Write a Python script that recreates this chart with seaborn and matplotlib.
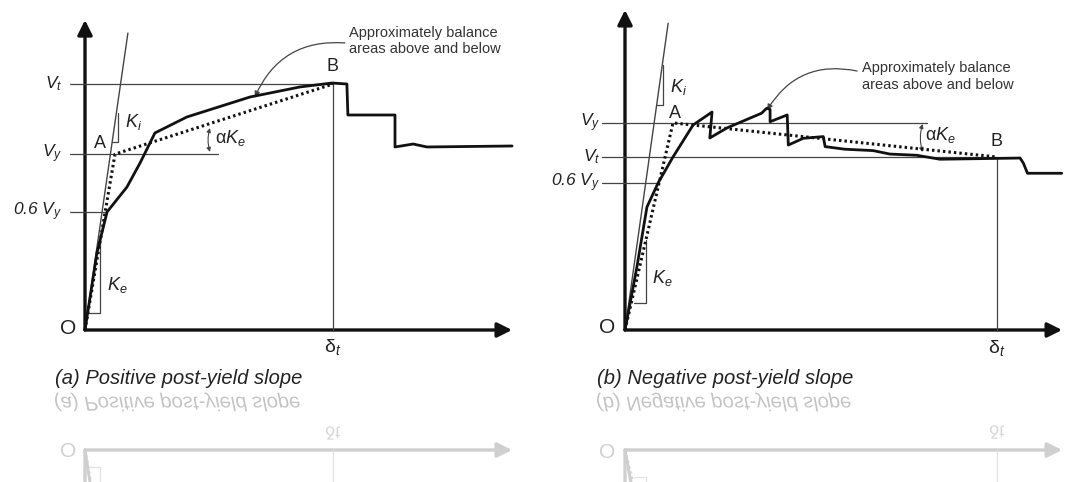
import matplotlib
matplotlib.use('Agg')
import matplotlib.pyplot as plt
import seaborn as sns
from matplotlib.patches import FancyArrowPatch, PathPatch
from matplotlib.textpath import TextPath
from matplotlib.font_manager import FontProperties
from matplotlib.transforms import Affine2D

sns.set_style('white')
plt.rcParams['font.family'] = ['Liberation Sans', 'DejaVu Sans']
plt.rcParams['mathtext.fontset'] = 'custom'
plt.rcParams['mathtext.it'] = 'Liberation Sans:italic'
plt.rcParams['mathtext.rm'] = 'Liberation Sans'

# %% data (displacement in units of delta_t, shear in units of V_t)
# (a) positive post-yield slope
a_curve_d = [0, 0.048, 0.089, 0.169, 0.222, 0.282, 0.411, 0.665, 0.867, 0.996, 1.056,
             1.060, 1.250, 1.250, 1.323, 1.379, 1.722]
a_curve_v = [0, 0.313, 0.480, 0.581, 0.679, 0.801, 0.866, 0.947, 0.988, 1.004, 1.000,
             0.874, 0.874, 0.744, 0.756, 0.744, 0.748]
a_bilin_d = [0, 0.121, 1.0]
a_bilin_v = [0, 0.715, 1.0]
a_ki = [0.173, 1.207]
a_vt, a_vy, a_06vy = 1.0, 0.715, 0.48

# (b) negative post-yield slope
b_curve_d = [0, 0.032, 0.059, 0.089, 0.129, 0.183, 0.234, 0.228, 0.274, 0.367, 0.381,
             0.390, 0.390, 0.436, 0.439, 0.479, 0.533, 0.538, 0.591, 0.667, 0.712,
             0.784, 0.847, 1.062, 1.071, 1.082, 1.174]
b_curve_v = [0, 0.364, 0.711, 0.850, 1.000, 1.185, 1.260, 1.110, 1.168, 1.253, 1.282,
             1.275, 1.204, 1.243, 1.069, 1.108, 1.118, 1.060, 1.045, 1.037, 1.017,
             1.010, 0.987, 0.994, 0.964, 0.906, 0.906]
b_bilin_d = [0, 0.129, 1.0]
b_bilin_v = [0, 1.197, 1.0]
b_ki = [0.116, 1.773]
b_vt, b_vy, b_06vy = 1.0, 1.197, 0.85

note = "Approximately balance\nareas above and below"

# %% layout (pixels of the 1077x482 picture)
W, H = 1077, 482
MIRROR = 390  # reflection line

panels = [
    dict(name='(a) Positive post-yield slope', px=(0, 540), o=(85, 330), sx=248, sy=246,
         cd=a_curve_d, cv=a_curve_v, bd=a_bilin_d, bv=a_bilin_v, ki=a_ki,
         vt=a_vt, vy=a_vy, v06=a_06vy, xend=1.722, yend=1.26,
         ref0=-0.06, vy_end=0.536, v06_end=0.089,
         ke_tri=(0.016, 0.06, 0.069, 0.366), ki_tri=(0.109, 0.133, 0.764, 0.882),
         arc=(0.504, 0.724, 0.821), lab_x=-0.093, o_lab=(-0.069, 0.008),
         a_lab=(0.06, 0.76), b_lab=(1.0, 1.073), ki_lab=(0.161, 0.846),
         ke_lab=(0.089, 0.183), ak_lab=(0.524, 0.78), dt_lab=(1.0, -0.069),
         note_xy=(1.065, 1.235), lead=((1.048, 1.167), (0.685, 0.947)),
         cap=(55, 378), order=['vt', 'vy', 'v06']),
    dict(name='(b) Negative post-yield slope', px=(540, 1077), o=(625, 330), sx=372, sy=173,
         cd=b_curve_d, cv=b_curve_v, bd=b_bilin_d, bv=b_bilin_v, ki=b_ki,
         vt=b_vt, vy=b_vy, v06=b_06vy, xend=1.175, yend=1.85,
         ref0=-0.062, vy_end=0.812, v06_end=0.089,
         ke_tri=(0.024, 0.056, 0.156, 0.520), ki_tri=(0.086, 0.102, 1.301, 1.532),
         arc=(0.80, 1.029, 1.191), lab_x=-0.067, o_lab=(-0.048, 0.012),
         a_lab=(0.134, 1.254), b_lab=(1.0, 1.087), ki_lab=(0.121, 1.405),
         ke_lab=(0.073, 0.30), ak_lab=(0.806, 1.127), dt_lab=(1.0, -0.104),
         note_xy=(0.637, 1.553), lead=((0.624, 1.497), (0.382, 1.272)),
         cap=(597, 378), order=['vy', 'vt', 'v06']),
]

fig = plt.figure(figsize=(W / 100, H / 100), dpi=100)


def px_axes(x0, x1, y0, y1):
    return fig.add_axes([x0 / W, 1 - y1 / H, (x1 - x0) / W, (y1 - y0) / H])


def draw(ax, p, dark, thin, mirror=False):
    # reference lines
    ax.plot([p['ref0'], 1.0], [p['vt']] * 2, color=thin, lw=0.9)
    ax.plot([p['ref0'], p['vy_end']], [p['vy']] * 2, color=thin, lw=0.9)
    ax.plot([p['ref0'], p['v06_end']], [p['v06']] * 2, color=thin, lw=0.9)
    ax.plot([1.0, 1.0], [0, p['vt']], color=thin, lw=0.9)
    # initial stiffness Ki
    ax.plot([0, p['ki'][0]], [0, p['ki'][1]], color=thin, lw=1.0)
    x0, x1, y0, y1 = p['ke_tri']
    ax.plot([x0, x1, x1], [y0, y0, y1], color=thin, lw=0.9)
    x0, x1, y0, y1 = p['ki_tri']
    ax.plot([x0, x1, x1], [y0, y0, y1], color=thin, lw=0.9)
    # curves
    sns.lineplot(x=p['cd'], y=p['cv'], sort=False, estimator=None, ax=ax,
                 color=dark, lw=2.0)
    ax.plot(p['bd'], p['bv'], color=dark, lw=2.2, ls=(0, (0.8, 1.0)))
    # axes with arrows
    for end in [(p['xend'], 0), (0, p['yend'])]:
        ax.add_patch(FancyArrowPatch((0, 0), end, arrowstyle='-|>', mutation_scale=22,
                                     lw=2.4, color=dark, shrinkA=0, shrinkB=0))
    if mirror:
        return
    # alpha*Ke arc
    xa, ya0, ya1 = p['arc']
    ax.add_patch(FancyArrowPatch((xa, ya0), (xa, ya1), arrowstyle='<|-|>',
                                 connectionstyle='arc3,rad=-0.15', mutation_scale=6,
                                 lw=0.8, color=thin, shrinkA=0, shrinkB=0))
    # leader for the note
    ax.add_patch(FancyArrowPatch(p['lead'][0], p['lead'][1], arrowstyle='-|>',
                                 connectionstyle='arc3,rad=0.35', mutation_scale=8,
                                 lw=0.9, color=thin, shrinkA=0, shrinkB=0))
    ax.text(*p['note_xy'], note, fontsize=10.5, color='#333', va='top', ha='left',
            linespacing=1.2)
    labels = {'vt': r'$V_t$', 'vy': r'$V_y$', 'v06': r'0.6 $V_y$'}
    for key in p['order']:
        ax.text(p['lab_x'], p[key], labels[key], fontsize=12.5, style='italic',
                ha='right', va='center', color='#222')
    ax.text(*p['o_lab'], 'O', fontsize=15, ha='center', va='center', color='#222')
    ax.text(*p['a_lab'], 'A', fontsize=13, ha='center', va='center', color='#222')
    ax.text(*p['b_lab'], 'B', fontsize=13, ha='center', va='center', color='#222')
    ax.text(*p['ki_lab'], r'$K_i$', fontsize=13, ha='left', va='center', color='#222')
    ax.text(*p['ke_lab'], r'$K_e$', fontsize=13, ha='left', va='center', color='#222')
    ax.text(*p['ak_lab'], r'α$K_e$', fontsize=13, ha='left', va='center', color='#222')
    ax.text(*p['dt_lab'], r'δ${}_t$', fontsize=14, ha='center', va='center', color='#222')


def flipped_text(xpx, ypx, s, size, color, style='normal', ha='left'):
    fp = FontProperties(family='Liberation Sans', style=style)
    tp = TextPath((0, 0), s, size=size, prop=fp)
    bb = tp.get_extents()
    dx = bb.x0 if ha == 'left' else (bb.x0 + bb.x1) / 2
    tr = (Affine2D().translate(-dx, -(bb.y0 + bb.y1) / 2).scale(1 / 72, -1 / 72)
          .translate(xpx / 100, (H - ypx) / 100) + fig.dpi_scale_trans)
    fig.add_artist(PathPatch(tp, transform=tr, color=color, lw=0))


for p in panels:
    xl = ((p['px'][0] - p['o'][0]) / p['sx'], (p['px'][1] - p['o'][0]) / p['sx'])
    # main drawing
    ax = px_axes(p['px'][0], p['px'][1], 0, MIRROR)
    draw(ax, p, '#111', '#444')
    ax.set_xlim(xl)
    ax.set_ylim((p['o'][1] - MIRROR) / p['sy'], p['o'][1] / p['sy'])
    ax.axis('off')
    # faded reflection below the caption
    axr = px_axes(p['px'][0], p['px'][1], MIRROR, H)
    draw(axr, p, '#cfcfcf', '#e2e2e2', mirror=True)
    axr.set_xlim(xl)
    axr.set_ylim((p['o'][1] - (2 * MIRROR - H)) / p['sy'], (p['o'][1] - MIRROR) / p['sy'])
    axr.axis('off')
    ox = p['o'][0] + p['o_lab'][0] * p['sx']
    axr.text(*p['o_lab'], 'O', fontsize=15, ha='center', va='center', color='#d0d0d0')
    flipped_text(p['o'][0] + p['sx'], 2 * MIRROR - (p['o'][1] - p['dt_lab'][1] * p['sy']),
                 'δt', 13, '#d8d8d8', ha='center')
    # caption and its reflection
    fig.text(p['cap'][0] / W, 1 - p['cap'][1] / H, p['name'], fontsize=14.5,
             style='italic', va='center', ha='left', color='#222')
    flipped_text(p['cap'][0], 2 * MIRROR - p['cap'][1], p['name'], 14.5, '#c4c4c4',
                 style='italic')

fig.savefig('out.png', dpi=100, facecolor='white')
